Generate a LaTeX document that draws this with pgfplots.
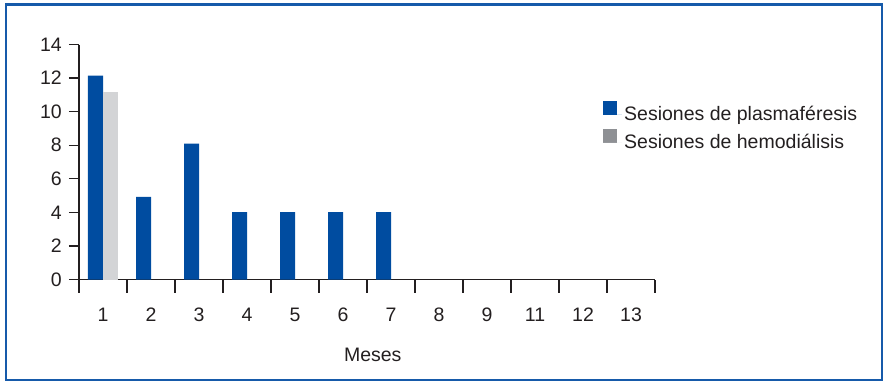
\documentclass[border=0pt]{standalone}
\usepackage{pgfplots}
\pgfplotsset{compat=1.18}
\usepackage{fontspec}
\setmainfont{Liberation Sans}
\definecolor{barblue}{RGB}{0,76,160}
\definecolor{bargray}{RGB}{211,212,214}
\definecolor{leggray}{RGB}{142,144,148}
\definecolor{frameblue}{RGB}{22,90,170}
\definecolor{txt}{RGB}{35,31,32}
\begin{document}
\begin{tikzpicture}
\useasboundingbox (0pt,0pt) rectangle (884pt,-384pt);
\draw[frameblue, line width=2.6pt] (6pt,-4.5pt) rectangle (882pt,-380pt);
\begin{axis}[
  at={(79pt,-279.5pt)}, anchor=south west,
  scale only axis, width=576pt, height=235pt,
  xmin=0.5, xmax=12.5, ymin=0, ymax=14,
  axis x line*=bottom, axis y line*=left,
  axis line style={txt, line width=1.2pt},
  ybar=0pt, bar width=15pt,
  xtick={1,...,12},
  xticklabels={1,2,3,4,5,6,7,8,9,11,12,13},
  minor xtick={0.5,1.5,...,12.5},
  ytick={0,2,...,14},
  tick align=outside,
  major x tick style={draw=none},
  every tick/.style={txt, line width=1.2pt},
  minor tick length=13pt,
  major tick length=10pt,
  /pgf/number format/assume math mode=true,
  font=\fontsize{19.5}{23}\selectfont,
  ticklabel style={txt, inner sep=0pt},
  xticklabel style={anchor=north, yshift=-18pt},
  yticklabel style={anchor=east, xshift=-7pt},
  xlabel={Meses},
  xlabel style={txt, at={(rel axis cs:0.51,0)}, anchor=center, yshift=-75pt, inner sep=0pt},
  legend style={draw=none, fill=none, inner sep=0pt, at={(0.9097,0.762)}, anchor=north west,
    font=\fontsize{19.5}{23}\selectfont, text=txt, row sep=5.5pt,
    /tikz/every even column/.append style={column sep=0pt}},
  legend cell align=left,
]
\addplot[fill=barblue, draw=none,
  legend image code/.code={\fill[barblue] (0pt,-1pt) rectangle (14pt,13pt); \path (0pt,0pt) rectangle (19pt,0pt);}]
  coordinates {(1,12.15) (2,4.92) (3,8.1) (4,4.02) (5,4.02) (6,4.02) (7,4.02)};
\addlegendentry{Sesiones de plasmaféresis}
\addplot[fill=bargray, draw=none,
  legend image code/.code={\fill[leggray] (0pt,-1pt) rectangle (14pt,13pt); \path (0pt,0pt) rectangle (19pt,0pt);}]
  coordinates {(1,11.2)};
\addlegendentry{Sesiones de hemodiálisis}
\end{axis}
\end{tikzpicture}
\end{document}
